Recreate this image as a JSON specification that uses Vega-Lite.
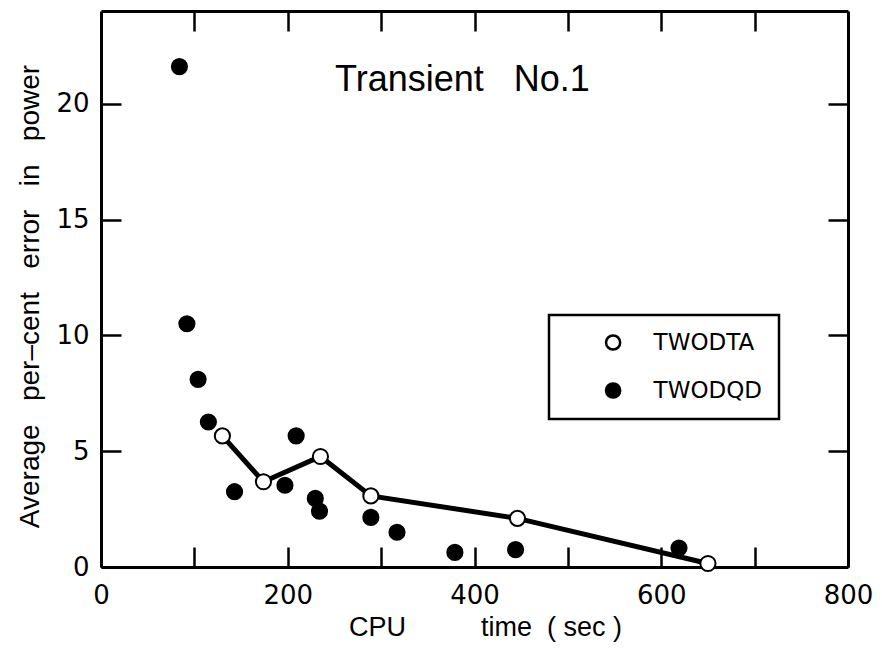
{
  "$schema": "https://vega.github.io/schema/vega-lite/v6.json",
  "width": 747,
  "height": 556,
  "autosize": "none",
  "padding": {"left": 101, "top": 11, "right": 34, "bottom": 89},
  "background": "white",
  "title": {
    "text": "Transient\u00a0\u00a0\u00a0No.1",
    "font": "Liberation Sans",
    "fontSize": 36,
    "fontWeight": "normal",
    "color": "black",
    "anchor": "middle",
    "baseline": "alphabetic",
    "offset": -117,
    "dx": -12
  },
  "config": {
    "view": {"stroke": null},
    "axis": {
      "domain": true,
      "domainColor": "black",
      "domainWidth": 3,
      "tickColor": "black",
      "tickWidth": 2.5,
      "tickSize": -20,
      "labelFont": "DejaVu Sans",
      "labelFontSize": 26,
      "labelColor": "black",
      "labelFlush": false,
      "labelOverlap": false,
      "labelBound": false,
      "grid": false,
      "titleFont": "Liberation Sans",
      "titleFontSize": 27,
      "titleFontWeight": "normal",
      "titleColor": "black",
      "titleLimit": 0
    },
    "legend": {
      "orient": "none",
      "legendX": 448,
      "legendY": 304,
      "direction": "vertical",
      "strokeColor": "black",
      "strokeWidth": 2.5,
      "fillColor": "white",
      "padding": 16,
      "rowPadding": 23,
      "symbolSize": 200,
      "symbolOffset": 36.6,
      "symbolOpacity": 1,
      "labelOffset": 29,
      "labelFont": "DejaVu Sans",
      "labelFontSize": 23,
      "labelColor": "black",
      "labelLimit": 0
    }
  },
  "data": {
    "values": [
      {"series": "TWODTA", "cpu": 130, "err": 5.66},
      {"series": "TWODTA", "cpu": 174, "err": 3.68},
      {"series": "TWODTA", "cpu": 235, "err": 4.77},
      {"series": "TWODTA", "cpu": 289, "err": 3.07},
      {"series": "TWODTA", "cpu": 446, "err": 2.1},
      {"series": "TWODTA", "cpu": 650, "err": 0.15},
      {"series": "TWODQD", "cpu": 84, "err": 21.6},
      {"series": "TWODQD", "cpu": 92, "err": 10.5},
      {"series": "TWODQD", "cpu": 104, "err": 8.1},
      {"series": "TWODQD", "cpu": 115, "err": 6.26},
      {"series": "TWODQD", "cpu": 143, "err": 3.25},
      {"series": "TWODQD", "cpu": 197, "err": 3.53},
      {"series": "TWODQD", "cpu": 209, "err": 5.66},
      {"series": "TWODQD", "cpu": 229.5, "err": 2.96},
      {"series": "TWODQD", "cpu": 234, "err": 2.41},
      {"series": "TWODQD", "cpu": 289, "err": 2.14},
      {"series": "TWODQD", "cpu": 317, "err": 1.5},
      {"series": "TWODQD", "cpu": 379, "err": 0.63},
      {"series": "TWODQD", "cpu": 444, "err": 0.75},
      {"series": "TWODQD", "cpu": 619, "err": 0.82}
    ]
  },
  "layer": [
    {
      "transform": [{"filter": "datum.series === 'TWODTA'"}],
      "mark": {"type": "line", "color": "black", "strokeWidth": 5},
      "encoding": {
        "x": {
          "field": "cpu",
          "type": "quantitative",
          "scale": {"domain": [0, 800], "nice": false, "zero": false},
          "axis": {
            "orient": "bottom",
            "values": [0, 100, 200, 300, 400, 500, 600, 700, 800],
            "labelExpr": "datum.value % 200 === 0 ? datum.label : ''",
            "labelPadding": 35,
            "title": "CPU\u00a0\u00a0\u00a0\u00a0\u00a0\u00a0\u00a0\u00a0\u00a0\u00a0time\u00a0\u00a0(\u00a0sec\u00a0)",
            "titleX": 384,
            "titleY": 68,
            "titleAlign": "center",
            "titleBaseline": "alphabetic"
          }
        },
        "y": {
          "field": "err",
          "type": "quantitative",
          "scale": {"domain": [0, 24], "nice": false, "zero": false},
          "axis": {
            "orient": "left",
            "values": [0, 5, 10, 15, 20],
            "labelPadding": 32,
            "title": "Average\u00a0\u00a0\u00a0per\u2013cent\u00a0\u00a0\u00a0error\u00a0\u00a0\u00a0in\u00a0\u00a0\u00a0power",
            "titleFontSize": 28,
            "titleAngle": 270,
            "titleX": -71,
            "titleY": 285,
            "titleAlign": "center",
            "titleBaseline": "middle"
          }
        },
        "order": {"field": "cpu", "type": "quantitative"}
      }
    },
    {
      "mark": {"type": "point", "filled": true, "size": 230, "stroke": "black", "strokeWidth": 2, "opacity": 1},
      "encoding": {
        "x": {
          "field": "cpu",
          "type": "quantitative",
          "axis": {
            "orient": "top",
            "values": [100, 200, 300, 400, 500, 600, 700],
            "labels": false,
            "title": null
          }
        },
        "y": {
          "field": "err",
          "type": "quantitative",
          "axis": {
            "orient": "right",
            "values": [5, 10, 15, 20],
            "labels": false,
            "title": null
          }
        },
        "fill": {
          "field": "series",
          "type": "nominal",
          "scale": {"domain": ["TWODTA", "TWODQD"], "range": ["white", "black"]},
          "legend": {
            "title": null,
            "symbolStrokeColor": "black",
            "symbolStrokeWidth": 2.5
          }
        }
      }
    }
  ]
}
